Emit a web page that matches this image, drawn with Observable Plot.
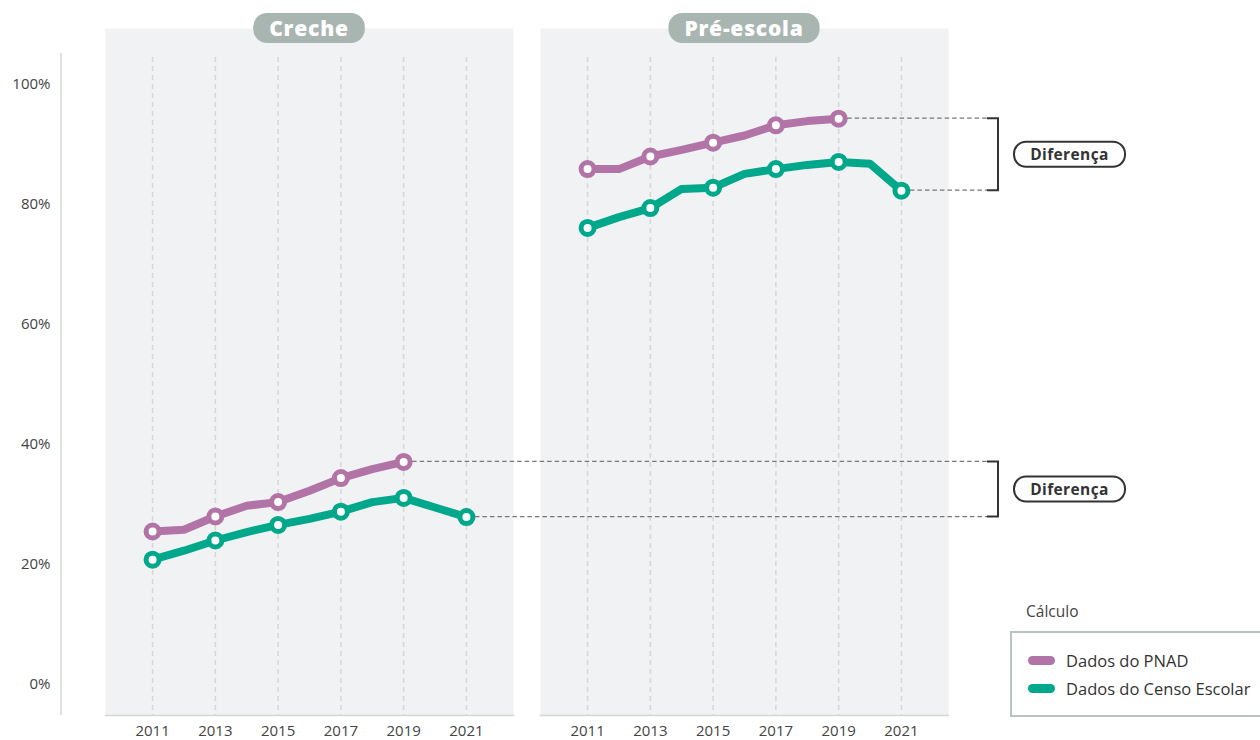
<!DOCTYPE html>
<html>
<head>
<meta charset="utf-8">
<script src="https://cdn.jsdelivr.net/npm/d3@7"></script>
<script src="https://cdn.jsdelivr.net/npm/@observablehq/plot@0.6"></script>
<style>
  html, body { margin: 0; padding: 0; background: #fff; }
  #wrap { position: relative; width: 1260px; height: 740px; overflow: hidden; font-family: "Open Sans", sans-serif; }
  #legend-title { position: absolute; left: 1026px; top: 600px; font-size: 15.5px; color: #444; }
  #legend { position: absolute; left: 1010px; top: 631px; width: 270px; height: 86px; border: 2px solid #b9c3c0; box-sizing: border-box; }
  .item { position: absolute; left: 16px; font-size: 16.5px; color: #333; display: flex; align-items: center; white-space: nowrap; }
  .sw { width: 27px; height: 9px; border-radius: 5px; margin-right: 11px; }
</style>
</head>
<body>
<div id="wrap">
  <div id="chart"></div>
  <div id="legend-title">Cálculo</div>
  <div id="legend"></div>
</div>
<script>
// ---- Data ----
const panels = ["Creche", "Pré-escola"];
const seriesNames = ["Dados do PNAD", "Dados do Censo Escolar"];
const seriesColors = ["#b273a6", "#00a88b"];
const pnadYears = [2011, 2012, 2013, 2014, 2015, 2016, 2017, 2018, 2019];
const censoYears = [2011, 2012, 2013, 2014, 2015, 2016, 2017, 2018, 2019, 2020, 2021];
const crechePNAD = [25.5, 25.8, 28.0, 29.8, 30.4, 32.3, 34.4, 35.9, 37.1];
const crecheCenso = [20.8, 22.3, 24.0, 25.4, 26.6, 27.6, 28.8, 30.4, 31.1, 29.5, 27.9];
const preescolaPNAD = [85.9, 85.9, 88.0, 89.1, 90.3, 91.5, 93.2, 93.9, 94.3];
const preescolaCenso = [76.1, 77.9, 79.4, 82.6, 82.8, 85.1, 85.9, 86.6, 87.1, 86.8, 82.3];
const tickYears = [2011, 2013, 2015, 2017, 2019, 2021];
const yTicks = [0, 20, 40, 60, 80, 100];
const diffLabel = "Diferença";

// ---- Build table ----
const rows = [];
function add(panel, series, years, vals) {
  years.forEach((yr, i) => rows.push({panel, series, year: yr, value: vals[i]}));
}
add("Creche", seriesNames[1], censoYears, crecheCenso);
add("Creche", seriesNames[0], pnadYears, crechePNAD);
add("Pré-escola", seriesNames[1], censoYears, preescolaCenso);
add("Pré-escola", seriesNames[0], pnadYears, preescolaPNAD);
const markerRows = rows.filter(d => tickYears.includes(d.year));

const chart = Plot.plot({
  width: 1260, height: 740,
  marginLeft: 105, marginRight: 312, marginTop: 28, marginBottom: 25,
  style: {fontFamily: "Open Sans", fontSize: "15px", color: "#444", background: "transparent"},
  fx: {domain: panels, paddingInner: 27 / 435, paddingOuter: 0, axis: null, label: null},
  x: {domain: [2009.5, 2022.5], ticks: tickYears, tickFormat: d => String(d), tickSize: 0, tickPadding: 10, label: null},
  y: {domain: [0, 100], insetTop: 56, insetBottom: 31, ticks: yTicks, tickFormat: d => d + "%", tickSize: 0, tickPadding: 55, label: null},
  color: {domain: seriesNames, range: seriesColors},
  marks: [
    Plot.frame({fill: "#f1f2f4", stroke: null}),
    Plot.ruleX(tickYears, {x: d => d, stroke: "#d6d6d6", strokeWidth: 1.5, strokeDasharray: "5,4", insetTop: 29}),
    Plot.frame({anchor: "bottom", stroke: "#d3d8d7", strokeWidth: 1.5}),
    Plot.line(rows, {x: "year", y: "value", fx: "panel", z: "series", stroke: "series", strokeWidth: 8, strokeLinejoin: "round", strokeLinecap: "round"}),
    Plot.dot(markerRows, {x: "year", y: "value", fx: "panel", stroke: "series", fill: "white", r: 6.5, strokeWidth: 5})
  ]
});
document.getElementById("chart").appendChild(chart);

// ---- Annotations placed with the chart's scales ----
const sx = chart.scale("x"), sy = chart.scale("y"), sfx = chart.scale("fx");
const px = (panel, yr) => sfx.apply(panel) + sx.apply(yr) - sx.range[0];
const bw = sfx.bandwidth;
const svg = d3.select(chart);
const g = svg.append("g");

// y axis line
const leftEdge = sfx.apply(panels[0]);
g.append("line").attr("x1", leftEdge - 44).attr("x2", leftEdge - 44)
  .attr("y1", 53).attr("y2", 715).attr("stroke", "#d3d8d7").attr("stroke-width", 1.5);

// panel header pills
panels.forEach(p => {
  const cx = sfx.apply(p) + bw / 2;
  const t = g.append("text").attr("x", cx).attr("y", 28).attr("text-anchor", "middle")
    .attr("dominant-baseline", "central").attr("fill", "#fff")
    .attr("font-family", "Open Sans").attr("font-weight", 800).attr("font-size", 21)
    .attr("letter-spacing", 0.8).text(p);
  const w = t.node().getComputedTextLength() + 32;
  g.insert("rect", "text").attr("x", cx - w / 2).attr("y", 13).attr("width", w).attr("height", 30)
    .attr("rx", 14).attr("fill", "#a8b5b1");
});

// Diferença brackets
const rightEnd = sfx.apply(panels[1]) + bw;
const dashEnd = rightEnd + 39, brX = rightEnd + 50;
const diffs = [
  {panel: "Creche", top: crechePNAD[crechePNAD.length - 1], topYear: pnadYears[pnadYears.length - 1],
   bot: crecheCenso[crecheCenso.length - 1], botYear: censoYears[censoYears.length - 1]},
  {panel: "Pré-escola", top: preescolaPNAD[preescolaPNAD.length - 1], topYear: pnadYears[pnadYears.length - 1],
   bot: preescolaCenso[preescolaCenso.length - 1], botYear: censoYears[censoYears.length - 1]}
];
diffs.forEach(d => {
  const yT = sy.apply(d.top), yB = sy.apply(d.bot);
  const ga = g.append("g");
  ga.append("line").attr("x1", px(d.panel, d.topYear) + 9).attr("x2", dashEnd).attr("y1", yT).attr("y2", yT)
    .attr("stroke", "#777").attr("stroke-width", 1.3).attr("stroke-dasharray", "4.5,3");
  ga.append("line").attr("x1", px(d.panel, d.botYear) + 9).attr("x2", dashEnd).attr("y1", yB).attr("y2", yB)
    .attr("stroke", "#777").attr("stroke-width", 1.3).attr("stroke-dasharray", "4.5,3");
  ga.append("path").attr("d", `M${dashEnd},${yT}H${brX}V${yB}H${dashEnd}`)
    .attr("fill", "none").attr("stroke", "#333").attr("stroke-width", 2);
  const ym = (yT + yB) / 2;
  ga.append("rect").attr("x", brX + 16).attr("y", ym - 12.5).attr("width", 111).attr("height", 25)
    .attr("rx", 12).attr("fill", "#fff").attr("stroke", "#333").attr("stroke-width", 2);
  ga.append("text").attr("x", brX + 16 + 55.5).attr("y", ym).attr("text-anchor", "middle")
    .attr("dominant-baseline", "central").attr("fill", "#333").attr("font-family", "Open Sans")
    .attr("font-weight", 700).attr("font-size", 15.5).attr("letter-spacing", 0.4).text(diffLabel);
});

// legend
const leg = document.getElementById("legend");
seriesNames.forEach((n, i) => {
  const it = document.createElement("div");
  it.className = "item";
  it.style.top = (16 + i * 28) + "px";
  it.innerHTML = `<span class="sw" style="background:${seriesColors[i]}"></span><span>${n}</span>`;
  leg.appendChild(it);
});
</script>
</body>
</html>
